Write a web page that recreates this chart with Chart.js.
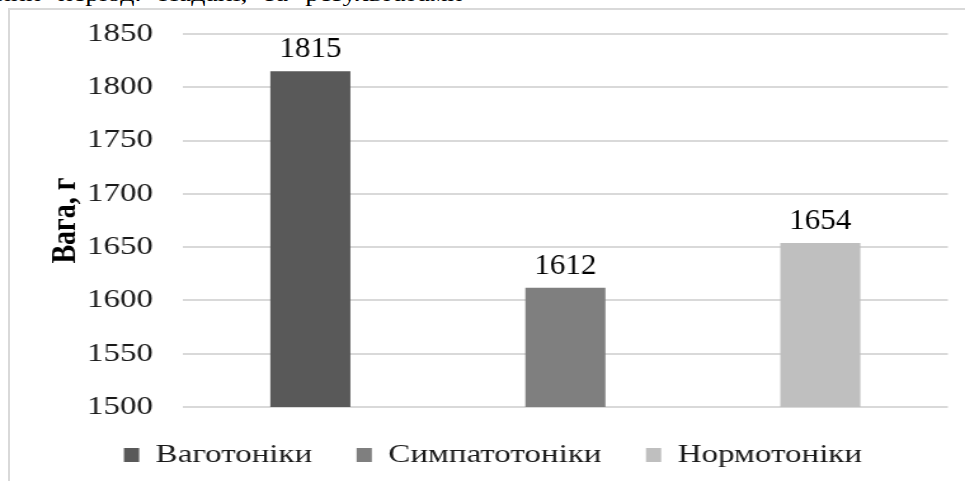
<!DOCTYPE html>
<html lang="uk">
<head>
<meta charset="utf-8">
<title>Вага, г</title>
<script src="https://cdn.jsdelivr.net/npm/chart.js@4.4.1/dist/chart.umd.min.js"></script>
<style>
  html, body { margin: 0; padding: 0; background: #fff; overflow: hidden; }
  body { width: 965px; height: 481px; position: relative; }
  .page-text {
    position: absolute; left: -4px; top: -17px; white-space: nowrap;
    font: 22px/22px "Liberation Serif", "Times New Roman", serif; color: #000;
    word-spacing: 8px;
    transform: scaleX(1.27); transform-origin: left top;
  }
  .frame {
    position: absolute; left: 8px; top: 8px; width: 2000px; height: 2000px;
    border: 2px solid #d9d9d9;
  }
  #chart { position: absolute; left: 0; top: 0; }
</style>
</head>
<body>
<div class="page-text">ний період. Надані, за результатами</div>
<div class="frame"></div>
<!-- the source picture is stretched sideways, so the canvas is drawn narrower and widened by css -->
<canvas id="chart" width="760" height="481" style="width:965px;height:481px"></canvas>
<script>
const categories = ['Ваготоніки', 'Симпатотоніки', 'Нормотоніки'];
const values = [1815, 1612, 1654];
const colors = ['#595959', '#7f7f7f', '#bfbfbf'];
const yTicks = [1500, 1550, 1600, 1650, 1700, 1750, 1800, 1850];
const yTitle = 'Вага, г';

const serif = '"Liberation Serif", "Times New Roman", serif';

const valueLabels = {
  id: 'valueLabels',
  afterDatasetsDraw(chart) {
    const { ctx } = chart;
    ctx.save();
    ctx.font = `24.5px ${serif}`;
    ctx.fillStyle = '#000';
    ctx.textAlign = 'center';
    ctx.textBaseline = 'alphabetic';
    chart.data.datasets.forEach((ds, i) => {
      const meta = chart.getDatasetMeta(i);
      meta.data.forEach((bar, j) => {
        const v = ds.data[j];
        if (v == null) return;
        ctx.save();
        ctx.translate(bar.x, bar.y - 14);
        ctx.scale(1, 1.2);
        ctx.fillText(String(v), 0, 0);
        ctx.restore();
      });
    });
    ctx.restore();
  },
};

const datasets = categories.map((name, i) => ({
  label: name,
  data: values.map((v, j) => (j === i ? v : null)),
  backgroundColor: colors[i],
  grouped: false,
  barPercentage: 0.314,
  categoryPercentage: 1,
}));

new Chart(document.getElementById('chart'), {
  type: 'bar',
  data: { labels: categories, datasets },
  plugins: [valueLabels],
  options: {
    responsive: false,
    animation: false,
    devicePixelRatio: 1,
    layout: { padding: { left: 30, right: 13.5, top: 34, bottom: 3 } },
    plugins: {
      tooltip: { enabled: false },
      legend: {
        position: 'bottom',
        labels: {
          font: { family: serif, size: 26 },
          color: '#1a1a1a',
          boxWidth: 12,
          boxHeight: 14,
          padding: 35,
        },
      },
    },
    scales: {
      x: { display: false },
      y: {
        min: yTicks[0],
        max: yTicks[yTicks.length - 1],
        afterBuildTicks: (s) => { s.ticks = yTicks.map((v) => ({ value: v })); },
        afterFit: (s) => {
          s.width = 114;
          s.paddingTop = 0;
          s.paddingBottom = 0;
        },
        border: { display: false },
        grid: { color: '#d9d9d9', lineWidth: 2, drawTicks: false },
        ticks: {
          padding: 23.5,
          color: '#1a1a1a',
          font: { family: serif, size: 26 },
          callback: (v) => String(v),
        },
        title: {
          display: true,
          text: yTitle,
          color: '#000',
          padding: { top: 5, bottom: 0 },
          font: { family: serif, size: 28, weight: 'bold' },
        },
      },
    },
  },
});
</script>
</body>
</html>
